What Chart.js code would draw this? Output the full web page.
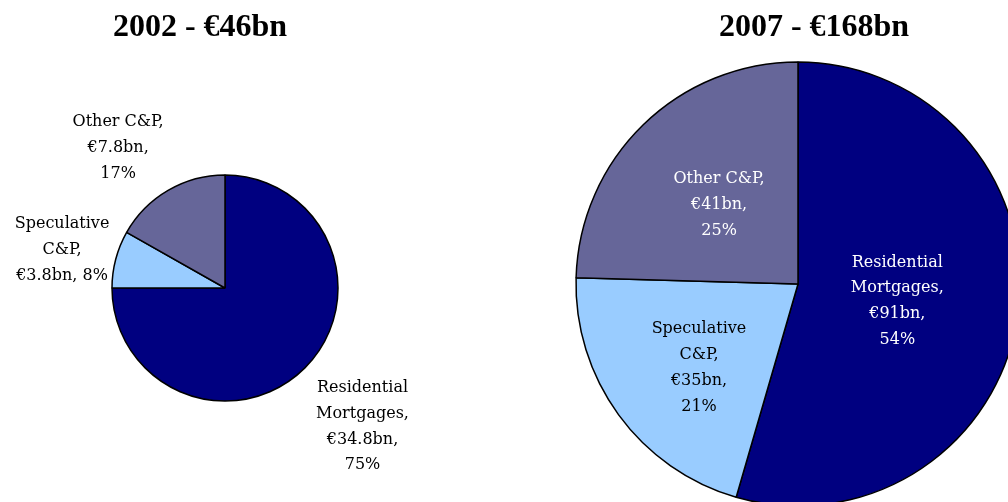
<!DOCTYPE html>
<html>
<head>
<meta charset="utf-8">
<script src="https://cdn.jsdelivr.net/npm/chart.js@4.4.0/dist/chart.umd.min.js"></script>
<style>
  html, body { margin: 0; padding: 0; background: #fff; overflow: hidden; width: 1008px; height: 502px; }
  canvas { position: absolute; top: 0; }
  #pie2002 { left: 0; }
  #pie2007 { left: 550px; }
</style>
</head>
<body>
<canvas id="pie2002" width="450" height="502"></canvas>
<canvas id="pie2007" width="500" height="520"></canvas>
<script>
// categories (wrapped the way the labels show them)
var categories = ['Residential Mortgages', 'Speculative C&P', 'Other C&P'];
var categoryLines = [['Residential', 'Mortgages,'], ['Speculative', 'C&P,'], ['Other C&P,']];
var sliceColors = ['#000080', '#99CCFF', '#666699'];

// 2002 - €46bn
var values2002 = [34.8, 3.8, 7.8];
var pct2002 = [75, 8, 17];

// 2007 - €168bn
var values2007 = [91, 35, 41];
var pct2007 = [54, 21, 25];

// build the text lines of one data label
function labelLines(i, value, pct, joined) {
  var out = categoryLines[i].slice();
  if (joined) {
    out.push('€' + value + 'bn, ' + pct + '%');
  } else {
    out.push('€' + value + 'bn,');
    out.push(pct + '%');
  }
  return out;
}

// title + data labels, placed round each slice's middle angle
var pieLabels = {
  id: 'pieLabels',
  afterDatasetsDraw: function(chart, args, opts) {
    var ctx = chart.ctx;
    var arcs = chart.getDatasetMeta(0).data;
    ctx.save();
    ctx.fillStyle = '#000';
    ctx.textAlign = 'center';
    ctx.textBaseline = 'alphabetic';
    ctx.font = 'bold 32px "Liberation Serif"';
    ctx.fillText(opts.title, opts.titleX, 36);

    ctx.font = '16px "DejaVu Serif"';
    ctx.textBaseline = 'middle';
    arcs.forEach(function(arc, i) {
      var p = arc.getProps(['x', 'y', 'startAngle', 'endAngle', 'outerRadius'], true);
      var mid = (p.startAngle + p.endAngle) / 2 + opts.nudge[i] * Math.PI / 180;
      var r = p.outerRadius * opts.dist[i];
      var cx = p.x + Math.cos(mid) * r;
      var cy = p.y + Math.sin(mid) * r;
      var lines = opts.lines[i];
      ctx.fillStyle = opts.colors[i];
      lines.forEach(function(t, j) {
        ctx.fillText(t, cx, cy + (j - (lines.length - 1) / 2) * 25.8);
      });
    });
    ctx.restore();
  }
};

function makePie(id, values, pct, radius, padding, labelOpts) {
  return new Chart(document.getElementById(id), {
    type: 'pie',
    data: {
      labels: categories,
      datasets: [{
        data: values,
        backgroundColor: sliceColors,
        borderColor: '#000',
        borderWidth: 1.5
      }]
    },
    options: {
      responsive: false,
      animation: false,
      radius: radius,
      layout: { padding: padding },
      plugins: {
        legend: { display: false },
        tooltip: { enabled: false },
        pieLabels: labelOpts
      }
    },
    plugins: [pieLabels]
  });
}

makePie('pie2002', values2002, pct2002, 113,
  { left: 111, right: 111, top: 174, bottom: 100 },
  {
    title: '2002 - €46bn',
    titleX: 200,
    lines: values2002.map(function(v, i) { return labelLines(i, v, pct2002[i], i === 1); }),
    colors: ['#000', '#000', '#000'],
    dist: [1.727, 1.481, 1.559],
    nudge: [0.2, -1.6, -7.1]
  });

makePie('pie2007', values2007, pct2007, 222,
  { left: 24, right: 28, top: 60, bottom: 12 },
  {
    title: '2007 - €168bn',
    titleX: 264,
    lines: values2007.map(function(v, i) { return labelLines(i, v, pct2007[i], false); }),
    colors: ['#fff', '#000', '#fff'],
    dist: [0.454, 0.584, 0.503],
    nudge: [1.75, -4.1, -0.8]
  });
</script>
</body>
</html>
